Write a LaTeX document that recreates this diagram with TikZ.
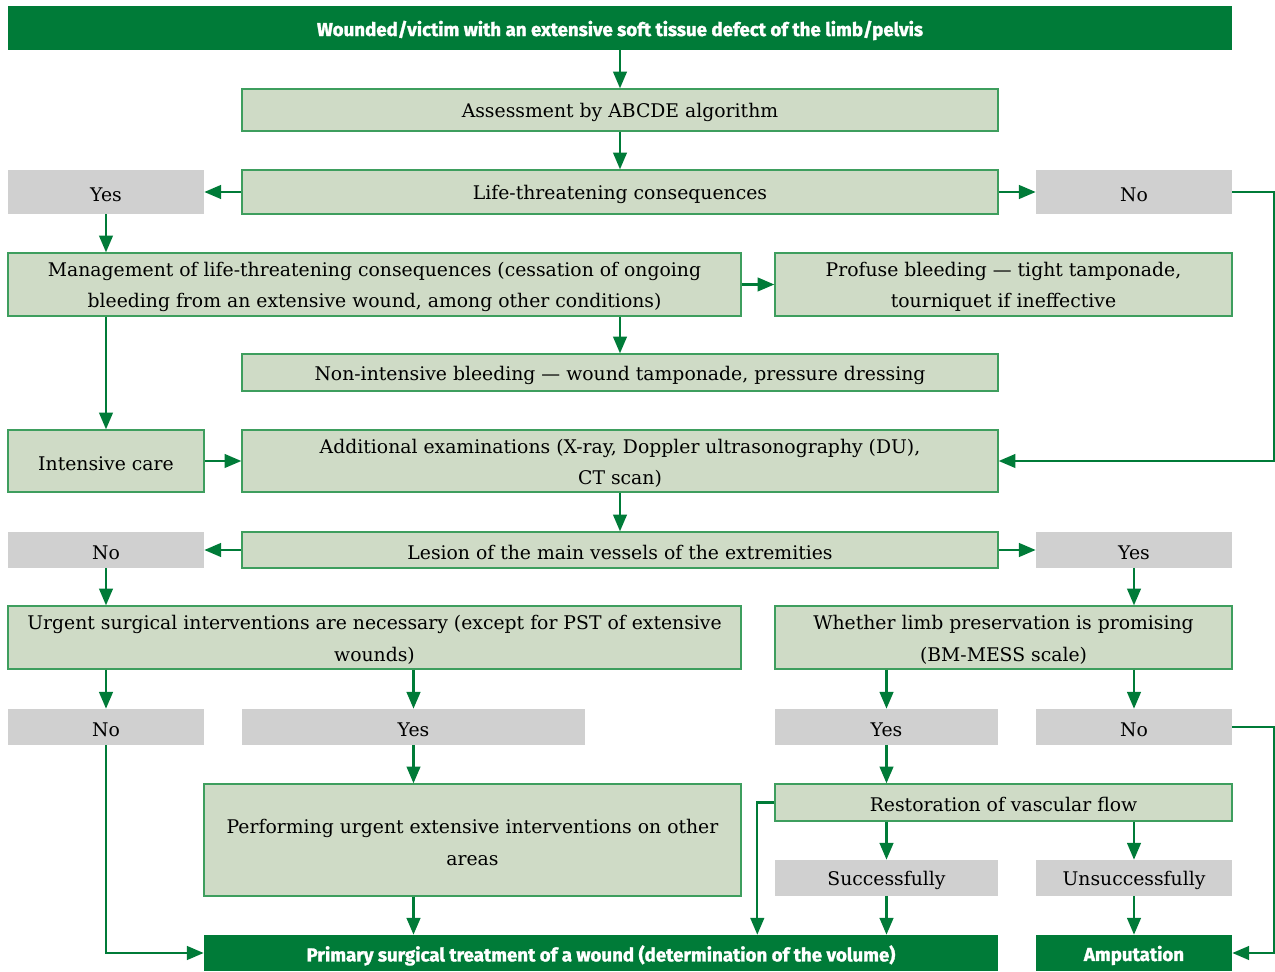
\documentclass[tikz,border=0pt]{standalone}
\usepackage{fontspec}
\setmainfont{DejaVu Serif}
\IfFontExistsTF{Fira Sans Heavy}
  {\newfontfamily\headfont{Fira Sans Heavy}[BoldFont={Fira Sans Heavy}]}
  {\newfontfamily\headfont{Fira Sans}[FakeBold=1.5]}
\usetikzlibrary{arrows.meta}

\definecolor{dgreen}{HTML}{007B38}
\definecolor{lgreen}{HTML}{CFDBC6}
\definecolor{bgreen}{HTML}{3E9E5E}
\definecolor{greybox}{HTML}{D0D0D0}

% box from its corner coordinates (in px units); the text sits slightly low
\newcommand\bx[7]{%
  \node[#6, minimum width={(#4-#2)*0.02cm}, minimum height={(#5-#3)*0.02cm}]
    (#1) at ({(#2+#4)/2},{(#3+#5)/2}) {};
  \node[#6, fill=none, draw=none] (#1t) at ([yshift=-1.4pt]#1.center) {#7};}

\tikzset{
  base/.style={inner sep=0pt, align=center, text=black,
    font=\fontsize{10.7}{17.8}\selectfont},
  pale/.style={base, fill=lgreen, draw=bgreen, line width=0.8pt},
  grey/.style={base, fill=greybox},
  dark/.style={base, fill=dgreen, text=white,
    font=\headfont\bfseries\fontsize{10.65}{12}\selectfont},
  arr/.style={draw=dgreen, line width=1.15pt,
    -{Triangle[length=9.5pt,width=7.8pt]}},
}

\begin{document}
\begin{tikzpicture}[x=0.02cm,y=-0.02cm]
\useasboundingbox (0,0) rectangle (1275,972);

\bx{top}{8}{6}{1232}{50}{dark}{Wounded/victim with an extensive soft tissue defect of the limb/pelvis}
\bx{abc}{242}{89}{998}{131}{pale}{Assessment by ABCDE algorithm}
\bx{life}{242}{170}{998}{214}{pale}{Life-threatening consequences}
\bx{yesA}{8}{170}{204}{214}{grey}{Yes}
\bx{noA}{1036}{170}{1232}{214}{grey}{No}
\bx{mgmt}{8}{253}{741}{316}{pale}{Management of life-threatening consequences (cessation of ongoing\\bleeding from an extensive wound, among other conditions)}
\bx{prof}{775}{253}{1232}{316}{pale}{Profuse bleeding — tight tamponade,\\tourniquet if ineffective}
\bx{nonint}{242}{354}{998}{391}{pale}{Non-intensive bleeding — wound tamponade, pressure dressing}
\bx{icare}{8}{430}{204}{492}{pale}{Intensive care}
\bx{addx}{242}{430}{998}{492}{pale}{Additional examinations (X-ray, Doppler ultrasonography (DU),\\CT scan)}
\bx{noB}{8}{532}{204}{568}{grey}{No}
\bx{lesion}{242}{532}{998}{568}{pale}{Lesion of the main vessels of the extremities}
\bx{yesB}{1036}{532}{1232}{568}{grey}{Yes}
\bx{urg}{8}{606}{741}{669}{pale}{Urgent surgical interventions are necessary (except for PST of extensive\\wounds)}
\bx{limb}{775}{606}{1232}{669}{pale}{Whether limb preservation is promising\\(BM-MESS scale)}
\bx{noC}{8}{709}{204}{745}{grey}{No}
\bx{yesC}{242}{709}{585}{745}{grey}{Yes}
\bx{yesD}{775}{709}{998}{745}{grey}{Yes}
\bx{noD}{1036}{709}{1232}{745}{grey}{No}
\bx{perf}{204}{784}{741}{896}{pale}{Performing urgent extensive interventions on other\\areas}
\bx{rest}{775}{784}{1232}{821}{pale}{Restoration of vascular flow}
\bx{succ}{775}{860}{998}{896}{grey}{Successfully}
\bx{unsucc}{1036}{860}{1232}{896}{grey}{Unsuccessfully}
\bx{pst}{204}{935}{998}{971}{dark}{Primary surgical treatment of a wound (determination of the volume)}
\bx{amp}{1036}{935}{1232}{971}{dark}{Amputation}

% connectors
\draw[arr] (top.south) -- (abc.north);
\draw[arr] (abc.south) -- (life.north);
\draw[arr] (life.west) -- (yesA.east);
\draw[arr] (life.east) -- (noA.west);
\draw[arr] (noA.east) -- ++(42,0) |- (addx.east);
\draw[arr] (yesA.south) -- (yesA.south |- mgmt.north);
\draw[arr] (mgmt.east) -- (prof.west);
\draw[arr] (mgmt.south -| nonint.north) -- (nonint.north);
\draw[arr] (mgmt.south -| icare.north) -- (icare.north);
\draw[arr] (icare.east) -- (addx.west);
\draw[arr] (addx.south) -- (lesion.north);
\draw[arr] (lesion.west) -- (noB.east);
\draw[arr] (lesion.east) -- (yesB.west);
\draw[arr] (noB.south) -- (noB.south |- urg.north);
\draw[arr] (yesB.south) -- (yesB.south |- limb.north);
\draw[arr] (urg.south -| noC.north) -- (noC.north);
\draw[arr] (urg.south -| yesC.north) -- (yesC.north);
\draw[arr] (limb.south -| yesD.north) -- (yesD.north);
\draw[arr] (limb.south -| noD.north) -- (noD.north);
\draw[arr] (noC.south) |- (pst.west);
\draw[arr] (yesC.south) -- (yesC.south |- perf.north);
\draw[arr] (perf.south -| yesC.south) -- (pst.north -| yesC.south);
\draw[arr] (yesD.south) -- (yesD.south |- rest.north);
\draw[arr] (rest.west) -- ++(-17,0) coordinate (bend) -- (bend |- pst.north);
\draw[arr] (rest.south -| succ.north) -- (succ.north);
\draw[arr] (rest.south -| unsucc.north) -- (unsucc.north);
\draw[arr] (succ.south) -- (succ.south |- pst.north);
\draw[arr] (unsucc.south) -- (unsucc.south |- amp.north);
\draw[arr] (noD.east) -- ++(42,0) |- (amp.east);
\end{tikzpicture}
\end{document}
